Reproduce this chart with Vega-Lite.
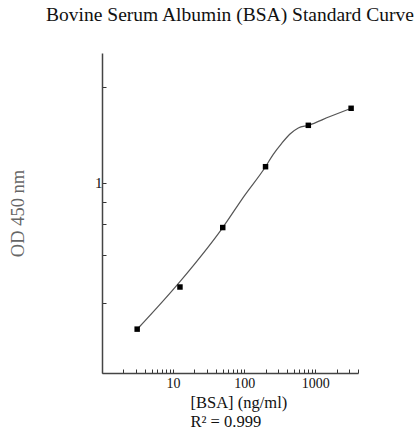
{
  "$schema": "https://vega.github.io/schema/vega-lite/v6.json",
  "width": 256,
  "height": 320,
  "autosize": {"type": "none"},
  "padding": {"left": 102, "top": 53, "right": 59, "bottom": 74},
  "background": "white",
  "title": {
    "text": "Bovine Serum Albumin (BSA) Standard Curve",
    "font": "Liberation Serif",
    "fontSize": 19.5,
    "fontWeight": "normal",
    "color": "#111111",
    "anchor": "middle",
    "frame": "group",
    "offset": 28
  },
  "config": {
    "view": {"stroke": null},
    "axis": {"grid": false}
  },
  "encoding": {
    "x": {
      "field": "conc",
      "type": "quantitative",
      "scale": {"type": "log", "domain": [1, 4000], "nice": false},
      "axis": {
        "title": ["[BSA] (ng/ml)", "R² = 0.999"],
        "values": [1, 2, 3, 4, 5, 6, 7, 8, 9, 10, 20, 30, 40, 50, 60, 70, 80, 90, 100, 200, 300, 400, 500, 600, 700, 800, 900, 1000, 2000, 3000, 4000],
        "labelExpr": "datum.value == 10 || datum.value == 100 || datum.value == 1000 ? format(datum.value, 'd') : ''",
        "tickSize": -4,
        "tickColor": "#333333",
        "tickWidth": 1,
        "domainColor": "#444444",
        "domainWidth": 1.5,
        "labelFont": "Liberation Serif",
        "labelFontSize": 14,
        "labelColor": "#111111",
        "labelPadding": 7,
        "labelOverlap": false,
        "labelFlush": false,
        "titleFont": "Liberation Serif",
        "titleFontSize": 16.5,
        "titleFontWeight": "normal",
        "titleColor": "#111111",
        "titleAlign": "left",
        "titleBaseline": "top",
        "titleX": 88,
        "titleY": 21,
        "titleLineHeight": 19
      }
    },
    "y": {
      "field": "od",
      "type": "quantitative",
      "scale": {"type": "log", "domain": [0.1, 4.8], "nice": false},
      "axis": {
        "title": "OD 450 nm",
        "values": [3.17, 1, 0.794, 0.606, 0.417, 0.234],
        "labelExpr": "datum.value == 1 ? '1' : ''",
        "tickSize": -4,
        "tickColor": "#333333",
        "domainColor": "#444444",
        "domainWidth": 1.5,
        "labelFont": "Liberation Serif",
        "labelFontSize": 15,
        "labelColor": "#111111",
        "labelPadding": 4,
        "labelOverlap": false,
        "labelFlush": false,
        "titleFont": "Liberation Serif",
        "titleFontSize": 18.5,
        "titleFontWeight": "normal",
        "titleColor": "#666666",
        "titleAngle": -90,
        "titleAlign": "center",
        "titleBaseline": "middle",
        "titleX": -85,
        "titleY": 160
      }
    }
  },
  "layer": [
    {
      "data": {
        "values": [
          {"conc": 3.125, "od": 0.1697},
          {"conc": 12.5, "od": 0.302},
          {"conc": 50, "od": 0.581},
          {"conc": 100, "od": 0.85},
          {"conc": 200, "od": 1.213},
          {"conc": 257, "od": 1.409},
          {"conc": 338, "od": 1.61},
          {"conc": 442, "od": 1.801},
          {"conc": 578, "od": 1.938},
          {"conc": 800, "od": 2.001},
          {"conc": 1615, "od": 2.227},
          {"conc": 3200, "od": 2.459}
        ]
      },
      "mark": {"type": "line", "interpolate": "monotone", "color": "#555555", "strokeWidth": 1.2}
    },
    {
      "data": {
        "values": [
          {"conc": 3.125, "od": 0.170},
          {"conc": 12.5, "od": 0.283},
          {"conc": 50, "od": 0.581},
          {"conc": 200, "od": 1.213},
          {"conc": 800, "od": 2.001},
          {"conc": 3200, "od": 2.459}
        ]
      },
      "mark": {"type": "point", "shape": "square", "filled": true, "color": "#000000", "opacity": 1, "size": 30}
    }
  ]
}
